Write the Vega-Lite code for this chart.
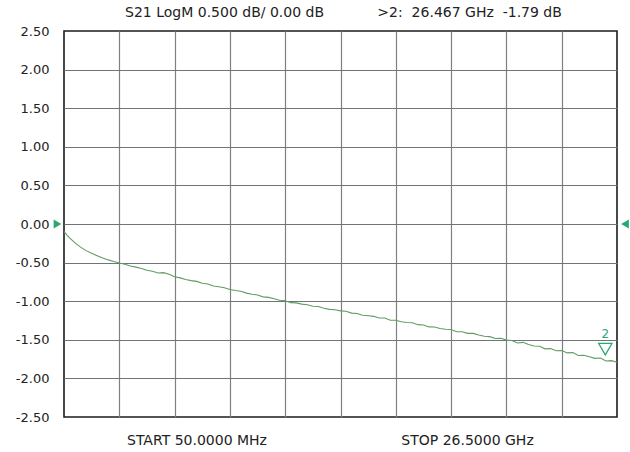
{
  "$schema": "https://vega.github.io/schema/vega-lite/v6.json",
  "width": 553,
  "height": 386,
  "autosize": {"type": "none"},
  "padding": {"left": 64, "top": 31, "right": 13, "bottom": 35},
  "background": "#ffffff",
  "config": {
    "view": {"stroke": "#1c1c1c", "strokeWidth": 1.6},
    "font": "DejaVu Sans"
  },
  "datasets": {
    "trace": [
      {"f": 0.050, "db": -0.100}, {"f": 0.103, "db": -0.115}, {"f": 0.182, "db": -0.140},
      {"f": 0.315, "db": -0.180}, {"f": 0.579, "db": -0.245}, {"f": 0.844, "db": -0.300},
      {"f": 1.108, "db": -0.345}, {"f": 1.373, "db": -0.380}, {"f": 1.637, "db": -0.410},
      {"f": 1.902, "db": -0.440}, {"f": 2.166, "db": -0.465}, {"f": 2.431, "db": -0.485},
      {"f": 2.695, "db": -0.505}, {"f": 2.960, "db": -0.522}, {"f": 3.224, "db": -0.545},
      {"f": 3.489, "db": -0.559}, {"f": 3.753, "db": -0.577}, {"f": 4.018, "db": -0.599},
      {"f": 4.282, "db": -0.613}, {"f": 4.547, "db": -0.634}, {"f": 4.811, "db": -0.630},
      {"f": 5.076, "db": -0.652}, {"f": 5.340, "db": -0.683}, {"f": 5.605, "db": -0.698},
      {"f": 5.869, "db": -0.720}, {"f": 6.134, "db": -0.733}, {"f": 6.398, "db": -0.743},
      {"f": 6.663, "db": -0.768}, {"f": 6.927, "db": -0.778}, {"f": 7.192, "db": -0.803},
      {"f": 7.456, "db": -0.813}, {"f": 7.721, "db": -0.826}, {"f": 7.985, "db": -0.848},
      {"f": 8.250, "db": -0.861}, {"f": 8.514, "db": -0.870}, {"f": 8.779, "db": -0.895},
      {"f": 9.043, "db": -0.910}, {"f": 9.308, "db": -0.920}, {"f": 9.572, "db": -0.944},
      {"f": 9.837, "db": -0.951}, {"f": 10.101, "db": -0.969}, {"f": 10.366, "db": -0.988},
      {"f": 10.630, "db": -0.994}, {"f": 10.895, "db": -1.019}, {"f": 11.159, "db": -1.022},
      {"f": 11.424, "db": -1.038}, {"f": 11.688, "db": -1.047}, {"f": 11.953, "db": -1.066},
      {"f": 12.217, "db": -1.069}, {"f": 12.482, "db": -1.091}, {"f": 12.746, "db": -1.106},
      {"f": 13.011, "db": -1.110}, {"f": 13.275, "db": -1.125}, {"f": 13.540, "db": -1.130},
      {"f": 13.804, "db": -1.154}, {"f": 14.069, "db": -1.159}, {"f": 14.333, "db": -1.183},
      {"f": 14.598, "db": -1.188}, {"f": 14.862, "db": -1.196}, {"f": 15.127, "db": -1.217},
      {"f": 15.391, "db": -1.217}, {"f": 15.656, "db": -1.246}, {"f": 15.920, "db": -1.246},
      {"f": 16.185, "db": -1.267}, {"f": 16.449, "db": -1.275}, {"f": 16.714, "db": -1.280},
      {"f": 16.978, "db": -1.304}, {"f": 17.243, "db": -1.309}, {"f": 17.507, "db": -1.333},
      {"f": 17.772, "db": -1.334}, {"f": 18.036, "db": -1.354}, {"f": 18.301, "db": -1.363},
      {"f": 18.565, "db": -1.367}, {"f": 18.830, "db": -1.396}, {"f": 19.094, "db": -1.396},
      {"f": 19.359, "db": -1.417}, {"f": 19.623, "db": -1.417}, {"f": 19.888, "db": -1.438},
      {"f": 20.152, "db": -1.454}, {"f": 20.417, "db": -1.459}, {"f": 20.681, "db": -1.483},
      {"f": 20.946, "db": -1.480}, {"f": 21.210, "db": -1.504}, {"f": 21.475, "db": -1.509},
      {"f": 21.739, "db": -1.542}, {"f": 22.004, "db": -1.533}, {"f": 22.268, "db": -1.560},
      {"f": 22.533, "db": -1.581}, {"f": 22.797, "db": -1.584}, {"f": 23.062, "db": -1.617},
      {"f": 23.326, "db": -1.614}, {"f": 23.591, "db": -1.641}, {"f": 23.855, "db": -1.638},
      {"f": 24.120, "db": -1.670}, {"f": 24.384, "db": -1.666}, {"f": 24.649, "db": -1.704},
      {"f": 24.913, "db": -1.700}, {"f": 25.178, "db": -1.720}, {"f": 25.442, "db": -1.740},
      {"f": 25.707, "db": -1.736}, {"f": 25.971, "db": -1.774}, {"f": 26.236, "db": -1.770},
      {"f": 26.500, "db": -1.790}
    ],
    "marker": [{"f": 26.467, "db": -1.79, "name": "2"}],
    "reference": [{"db": 0}]
  },
  "layer": [
    {
      "data": {"name": "trace"},
      "mark": {"type": "line", "color": "#5f9c62", "strokeWidth": 1.1},
      "encoding": {
        "x": {
          "field": "f", "type": "quantitative",
          "scale": {"domain": [0.05, 26.5], "nice": false, "zero": false},
          "axis": {
            "values": [2.695, 5.34, 7.985, 10.63, 13.275, 15.92, 18.565, 21.21, 23.855],
            "tickCount": 30,
            "grid": true, "gridColor": "#7c8181", "gridWidth": 1.2,
            "domain": false, "ticks": false, "labels": false, "title": null
          }
        },
        "y": {
          "field": "db", "type": "quantitative",
          "scale": {"domain": [-2.5, 2.5], "nice": false, "zero": false},
          "axis": {
            "values": [-2.5, -2, -1.5, -1, -0.5, 0, 0.5, 1, 1.5, 2, 2.5],
            "tickCount": 30,
            "labelExpr": "(datum.value < 0 ? '-' : '') + format(abs(datum.value), '.2f')",
            "labelOverlap": false, "labelBound": false, "labelFlush": false,
            "grid": true, "gridColor": "#6f7474", "gridWidth": 1.2,
            "gridOpacity": {"condition": {"test": "abs(datum.value) > 2.4", "value": 0}, "value": 1},
            "domain": false, "ticks": false, "labelPadding": 15,
            "labelFont": "DejaVu Sans", "labelFontSize": 13, "labelColor": "#222222",
            "title": null
          }
        }
      }
    },
    {
      "data": {"name": "marker"},
      "mark": {"type": "point", "shape": "triangle-down", "filled": false, "stroke": "#2aa874", "strokeWidth": 1.3, "size": 175, "xOffset": -11, "yOffset": -13, "opacity": 1},
      "encoding": {
        "x": {"field": "f", "type": "quantitative"},
        "y": {"field": "db", "type": "quantitative"}
      }
    },
    {
      "data": {"name": "marker"},
      "mark": {"type": "text", "color": "#2aa874", "font": "DejaVu Sans", "fontSize": 12, "dx": -11, "dy": -28, "baseline": "middle", "align": "center"},
      "encoding": {
        "x": {"field": "f", "type": "quantitative"},
        "y": {"field": "db", "type": "quantitative"},
        "text": {"field": "name"}
      }
    },
    {
      "data": {"name": "reference"},
      "mark": {"type": "point", "shape": "triangle-right", "filled": true, "color": "#2aa874", "size": 80, "xOffset": -6.5, "opacity": 1},
      "encoding": {
        "x": {"datum": 0.05, "type": "quantitative"},
        "y": {"field": "db", "type": "quantitative"}
      }
    },
    {
      "data": {"name": "reference"},
      "mark": {"type": "point", "shape": "triangle-left", "filled": true, "color": "#2aa874", "size": 80, "xOffset": 8, "opacity": 1},
      "encoding": {
        "x": {"datum": 26.5, "type": "quantitative"},
        "y": {"field": "db", "type": "quantitative"}
      }
    },
    {
      "data": {"values": [{}]},
      "mark": {"type": "text", "text": "S21 LogM 0.500 dB/ 0.00 dB", "font": "DejaVu Sans", "fontSize": 14, "color": "#222222", "align": "center", "baseline": "middle"},
      "encoding": {
        "x": {"datum": 7.73, "type": "quantitative"},
        "y": {"datum": 2.733, "type": "quantitative"}
      }
    },
    {
      "data": {"values": [{}]},
      "mark": {"type": "text", "text": ">2:\u00a0\u00a026.467 GHz\u00a0\u00a0-1.79 dB", "font": "DejaVu Sans", "fontSize": 14, "color": "#222222", "align": "center", "baseline": "middle"},
      "encoding": {
        "x": {"datum": 19.45, "type": "quantitative"},
        "y": {"datum": 2.733, "type": "quantitative"}
      }
    },
    {
      "data": {"values": [{}]},
      "mark": {"type": "text", "text": "START 50.0000 MHz", "font": "DejaVu Sans", "fontSize": 14, "color": "#222222", "align": "center", "baseline": "middle"},
      "encoding": {
        "x": {"datum": 6.41, "type": "quantitative"},
        "y": {"datum": -2.811, "type": "quantitative"}
      }
    },
    {
      "data": {"values": [{}]},
      "mark": {"type": "text", "text": "STOP 26.5000 GHz", "font": "DejaVu Sans", "fontSize": 14, "color": "#222222", "align": "center", "baseline": "middle"},
      "encoding": {
        "x": {"datum": 19.35, "type": "quantitative"},
        "y": {"datum": -2.811, "type": "quantitative"}
      }
    }
  ]
}
